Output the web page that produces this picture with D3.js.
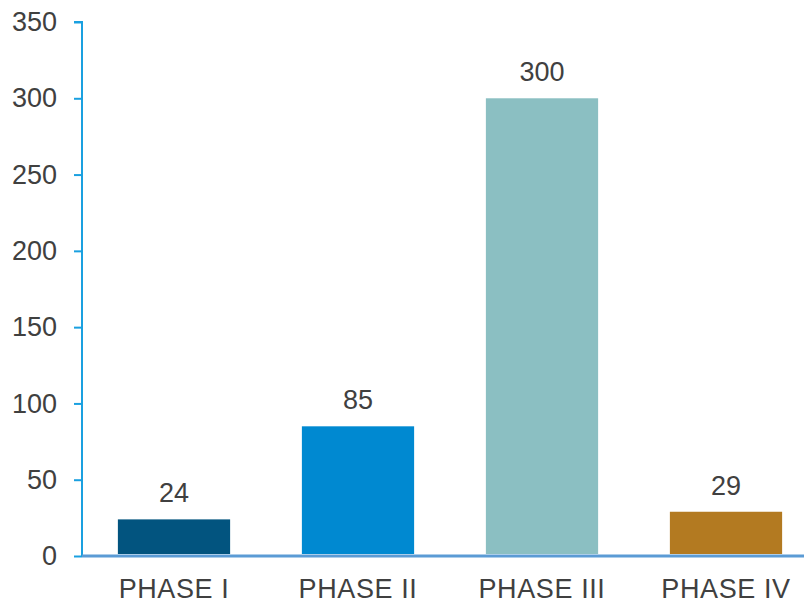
<!DOCTYPE html>
<html>
<head>
<meta charset="utf-8">
<script src="https://cdn.jsdelivr.net/npm/d3@7"></script>
<style>
  body { margin: 0; background: #fff; }
  text { font-family: "Liberation Sans", Arial, sans-serif; fill: #404040; }
</style>
</head>
<body>
<div id="chart"></div>
<script>
const phases = ['PHASE I', 'PHASE II', 'PHASE III', 'PHASE IV'];
const counts = [24, 85, 300, 29];
const barColors = ['#02547f', '#0089d1', '#8bbfc2', '#b37a21'];
const yTicks = [0, 50, 100, 150, 200, 250, 300, 350];

window.onload = init;

function init()
{
    const width = 804;
    const height = 603;
    const svg = d3.select('#chart').append('svg').attr('width', width).attr('height', height);

    const left = 82, top = 22, bottom = 556;

    const x = d3.scaleBand().domain(phases).range([left, left + 4 * 184]).paddingInner(0.39).paddingOuter(0.195);
    const y = d3.scaleLinear().domain([0, 350]).range([bottom, top]);

    // y axis
    const yAxis = svg.append('g').attr('transform', `translate(${left},0)`)
        .call(d3.axisLeft(y).tickValues(yTicks).tickSize(8).tickPadding(17));
    yAxis.select('.domain').attr('stroke', '#1aa0e0').attr('stroke-width', 2).attr('d', `M-8,${top}H0V${bottom}`);
    yAxis.selectAll('.tick line').attr('stroke', '#1aa0e0').attr('stroke-width', 2);
    yAxis.selectAll('.tick text').style('font-size', '27px').attr('fill', '#404040');

    // bars
    svg.selectAll('rect.bar').data(counts).enter().append('rect')
        .attr('class', 'bar')
        .attr('x', (d, i) => x(phases[i]))
        .attr('width', x.bandwidth())
        .attr('y', d => y(d))
        .attr('height', d => y(0) - y(d) - 2)
        .attr('fill', (d, i) => barColors[i]);

    // value labels
    svg.selectAll('text.val').data(counts).enter().append('text')
        .attr('class', 'val')
        .attr('x', (d, i) => x(phases[i]) + x.bandwidth() / 2)
        .attr('y', d => y(d) - 17)
        .attr('text-anchor', 'middle')
        .style('font-size', '27px')
        .text(d => d);

    // x axis
    svg.append('line').attr('x1', left).attr('x2', width).attr('y1', bottom).attr('y2', bottom)
        .attr('stroke', '#5b9bd5').attr('stroke-width', 3);

    svg.selectAll('text.cat').data(phases).enter().append('text')
        .attr('class', 'cat')
        .attr('x', d => x(d) + x.bandwidth() / 2)
        .attr('y', 598)
        .attr('text-anchor', 'middle')
        .style('font-size', '27px')
        .style('letter-spacing', '0.6px')
        .text(d => d);
}
</script>
</body>
</html>
